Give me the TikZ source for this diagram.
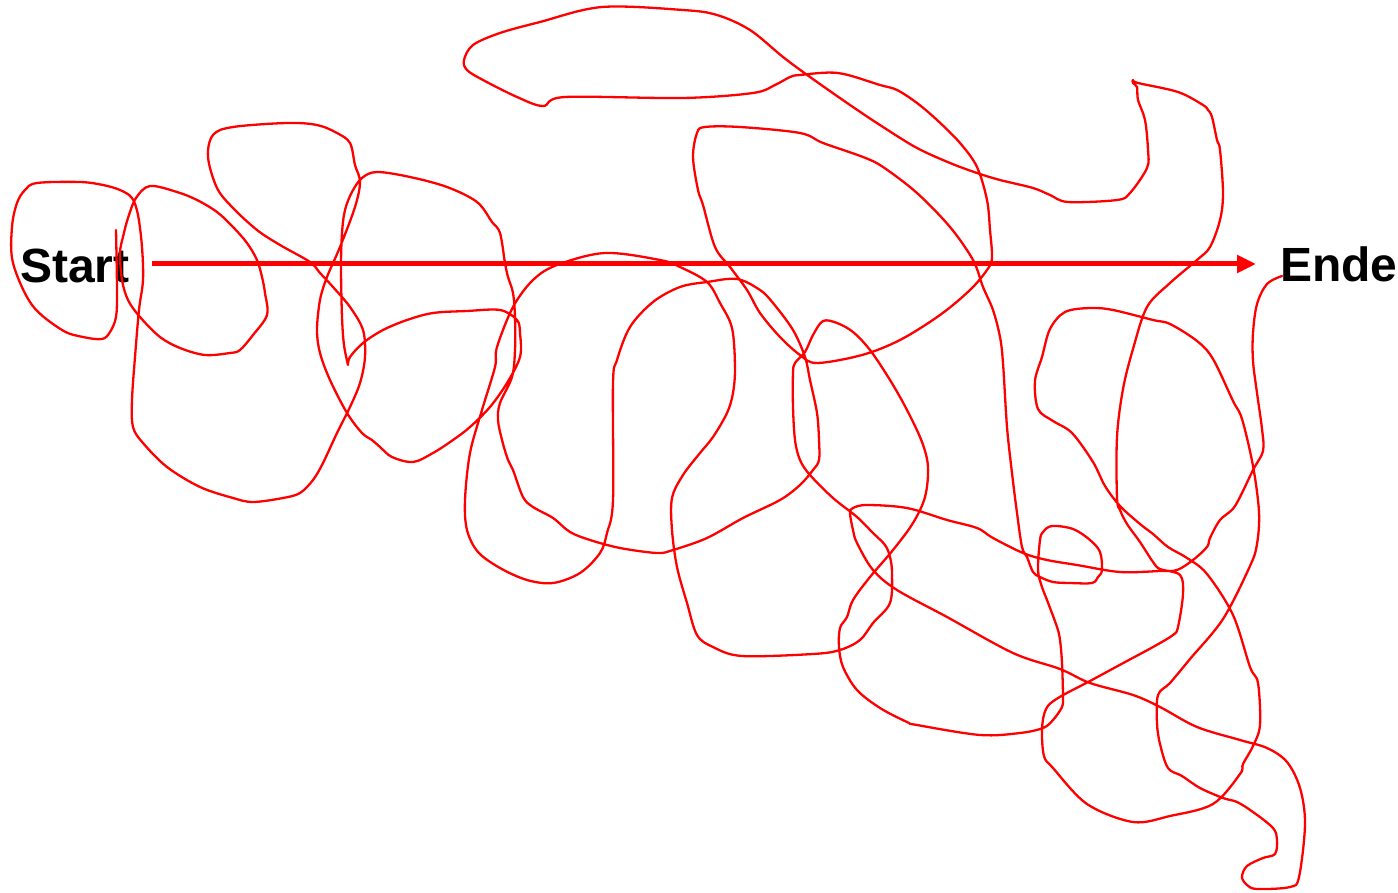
\documentclass[tikz,border=0pt]{standalone}
\usepackage{fontspec}
\setmainfont{Liberation Sans}
\usetikzlibrary{arrows.meta}
\begin{document}
\begin{tikzpicture}[x=1pt,y=-1pt,
  scribble/.style={draw=red, line width=2.3pt, line join=round, line cap=round},
  mainarrow/.style={draw=red, line width=5pt, -{Triangle[length=19pt,width=17pt]}},
  label/.style={font=\bfseries\fontsize{48}{48}\selectfont, inner sep=0pt, anchor=base west}]
\useasboundingbox (0,0) rectangle (1398,893);
% labels
\node[label] (start) at (20,283) {Start};
\node[label] (ende) at (1280,282) {Ende};
% arrow
\coordinate (a0) at (152,264);
\coordinate (a1) at (1256,264);
\draw[mainarrow] (a0) -- (a1);
% closed loop near start
\draw[scribble] plot[smooth cycle, tension=0.55] coordinates {
(150,186) (177,192) (197,200) (217,212) (233,227) (247,243) (257,260) (262,277) (265,293) (267,315) (253,335) (240,350) (230,353) (205,355) (180,348) (160,337) (140,317) (128,300) (122,280) (120,253) (123,237) (128,218) (136,198)};
% main scribble
\draw[scribble] plot[smooth, tension=0.55] coordinates {
(116,230) (117,290) (116,317) (110,332) (102,339) (83,337) (62,330) (32,305) (13,263) (12,227) (17,203) (25,190) (37,183) (80,182) (103,185) (120,190) (132,198) (138,215) (142,247) (143,280) (139,310) (135,357) (132,400) (133,427) (143,443) (167,467) (200,487) (233,498) (253,502) (283,498) (300,493) (313,480) (323,463) (337,433) (350,407) (360,383) (365,357) (363,330) (350,307) (333,287) (320,273) (310,262) (280,245) (257,230) (233,208) (217,188) (208,157) (213,135) (233,127) (287,123) (317,125) (337,133) (350,143) (355,165) (360,182) (355,207) (340,247) (327,277) (320,300) (317,330) (320,353) (330,380) (347,413) (362,433) (372,440) (380,447) (392,457) (413,462) (433,453) (453,440) (470,427) (490,407) (507,383) (520,357) (520,333) (517,320) (500,310) (467,311) (433,313) (407,320) (383,330) (363,343) (350,357) (348,365)}
 -- plot[smooth, tension=0.55] coordinates {
(348,365) (344,345) (342,317) (341,267) (342,233) (345,210) (352,192) (362,178) (377,172) (410,177) (447,187) (477,202) (492,222) (500,233) (505,263) (508,277) (513,293) (515,317) (515,350) (512,377) (500,403) (498,420) (502,440) (508,460) (513,470) (523,497) (533,507) (553,518) (570,532) (590,540) (620,548) (657,553) (673,550) (707,538) (743,518) (780,500) (800,485) (813,470) (819,460) (819,440) (817,413) (810,380) (805,357) (793,330) (773,303) (760,290) (737,279) (707,282) (680,287) (653,302) (630,327) (617,360) (613,383) (613,500) (607,533) (600,553) (580,573) (553,583) (527,580) (500,568) (478,552) (467,530) (465,500) (470,453) (482,410) (495,367) (497,347) (513,307) (533,280) (557,265) (605,253) (660,260) (680,267) (707,282) (720,303) (732,328) (735,367) (733,393) (727,413) (713,437) (700,453) (683,475) (672,498) (672,530) (677,567) (687,603) (697,635) (713,647) (742,656) (813,654) (840,650) (860,640) (873,623) (890,603) (892,573) (890,557) (885,545) (873,533) (857,517) (833,498) (810,475) (800,460) (795,440) (793,407) (793,373) (795,363) (805,352) (813,335) (823,321) (837,323) (853,332) (870,350) (890,380) (907,410) (922,442) (928,467) (925,497) (913,523) (893,550) (870,577) (853,600) (847,617) (840,628) (839,647) (843,667) (857,690) (880,708) (907,722) (917,725) (980,735) (1020,733) (1043,728) (1053,720) (1062,707) (1063,697) (1062,663) (1060,640) (1057,627) (1047,600) (1042,587) (1038,570) (1040,540) (1043,532) (1052,526) (1073,529) (1090,540) (1100,552) (1102,570) (1098,577) (1092,583) (1070,583) (1053,582) (1040,577) (1033,572) (1027,557) (1022,547) (1017,513) (1012,473) (1007,427) (1003,363) (1000,337) (993,310) (983,287) (973,260) (950,227) (917,193) (883,167) (863,157) (823,143) (800,133) (740,127) (705,127) (697,133) (693,157) (698,190) (703,205) (715,247) (730,267) (747,290) (760,313) (780,337) (800,355) (817,363) (862,355) (900,340) (940,315) (970,290) (987,270) (992,258) (990,230) (987,200) (977,167) (960,143) (937,120) (917,103) (897,90) (880,85) (838,73) (800,75) (790,77) (775,85) (753,93) (683,98) (565,97) (543,106) (517,97) (483,80) (467,70) (464,60) (473,45) (500,33) (540,22) (602,7) (683,10) (717,15) (750,30) (783,57) (810,77) (850,105) (883,127) (917,148) (950,163) (977,173) (1000,180) (1033,188) (1050,195) (1068,202) (1117,200) (1130,193) (1147,168) (1148,150) (1145,120) (1138,100) (1137,87) (1133,83) (1133,80) (1138,83) (1178,92) (1203,105) (1208,110) (1212,117) (1217,140) (1220,150) (1223,193) (1220,220) (1210,247) (1197,260) (1170,283) (1147,307) (1133,349) (1123,389) (1117,437) (1117,498) (1120,510) (1127,524) (1140,542) (1153,562) (1160,569) (1180,575) (1183,594) (1178,627) (1173,635) (1153,647) (1127,661) (1090,681) (1058,698) (1046,709) (1042,729) (1044,756) (1053,768) (1087,804) (1133,822) (1170,816) (1213,804) (1240,774) (1243,764) (1253,746) (1260,725) (1258,683) (1250,667) (1233,615) (1207,574) (1187,558) (1168,547) (1153,534) (1140,524) (1120,506) (1105,486) (1093,462) (1072,433) (1053,421) (1038,409) (1035,381) (1042,357) (1050,329) (1065,312) (1090,308) (1113,310) (1153,320) (1170,324) (1197,341) (1213,359) (1233,401) (1242,419) (1253,466) (1259,512) (1257,544) (1250,566) (1223,619) (1190,659) (1170,683) (1158,695) (1157,723) (1160,744) (1168,768) (1182,776) (1200,788) (1223,798) (1237,802) (1253,812) (1273,828) (1277,840) (1275,854) (1263,858) (1247,866) (1242,877) (1247,885) (1257,889) (1290,887) (1299,877) (1305,824) (1300,788) (1287,762) (1267,748) (1240,740) (1197,727) (1160,707) (1133,695) (1090,683) (1060,669) (1013,653) (947,617) (897,590) (873,570) (857,543) (853,530) (850,513) (853,508) (867,505) (907,508) (947,520) (977,528) (993,538) (1023,553) (1047,560) (1077,565) (1120,572) (1160,571) (1177,570) (1193,560) (1207,547) (1210,538) (1220,520) (1235,506) (1253,470) (1263,451) (1262,429) (1257,393) (1253,361) (1253,333) (1257,304) (1267,284) (1282,276)};
\end{tikzpicture}
\end{document}
